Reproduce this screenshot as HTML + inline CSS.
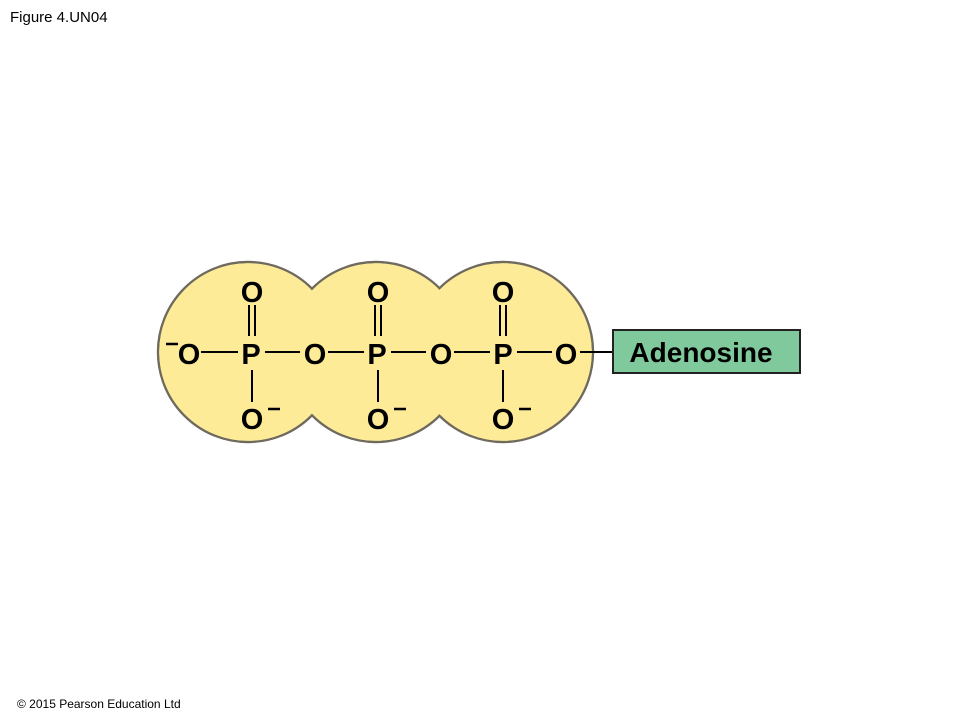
<!DOCTYPE html>
<html><head><style>
body{margin:0;background:#fff;width:960px;height:720px;overflow:hidden}
svg{display:block}
</style></head><body>
<svg width="960" height="720" xmlns="http://www.w3.org/2000/svg" font-family="Liberation Sans, Arial, sans-serif">
<text x="10" y="22" font-size="15" fill="#000">Figure 4.UN04</text>
<text x="17" y="708" font-size="12" fill="#000">© 2015 Pearson Education Ltd</text>
<g stroke="#6e6a5e" stroke-width="2.4" fill="#feeb98">
<circle cx="248" cy="352" r="90"/><circle cx="376" cy="352" r="90"/><circle cx="503" cy="352" r="90"/>
</g>
<g fill="#feeb98">
<circle cx="248" cy="352" r="88.8"/><circle cx="376" cy="352" r="88.8"/><circle cx="503" cy="352" r="88.8"/>
</g>
<g stroke="#000" stroke-width="2">
<line x1="201" y1="352" x2="238" y2="352"/><line x1="265" y1="352" x2="300" y2="352"/>
<line x1="328" y1="352" x2="364" y2="352"/><line x1="391" y1="352" x2="426" y2="352"/>
<line x1="454" y1="352" x2="490" y2="352"/><line x1="517" y1="352" x2="552" y2="352"/>
<line x1="580" y1="352" x2="613" y2="352"/>
<line x1="249" y1="305" x2="249" y2="336"/><line x1="255" y1="305" x2="255" y2="336"/>
<line x1="375" y1="305" x2="375" y2="336"/><line x1="381" y1="305" x2="381" y2="336"/>
<line x1="500" y1="305" x2="500" y2="336"/><line x1="506" y1="305" x2="506" y2="336"/>
<line x1="252" y1="370" x2="252" y2="402"/><line x1="378" y1="370" x2="378" y2="402"/><line x1="503" y1="370" x2="503" y2="402"/>
</g>
<g font-size="29" font-weight="bold" text-anchor="middle" fill="#000">
<text x="252" y="302">O</text><text x="378" y="302">O</text><text x="503" y="302">O</text>
<text x="251" y="364">P</text><text x="377" y="364">P</text><text x="503" y="364">P</text>
<text x="189" y="364">O</text><text x="315" y="364">O</text><text x="441" y="364">O</text><text x="566" y="364">O</text>
<text x="252" y="429">O</text><text x="378" y="429">O</text><text x="503" y="429">O</text>
</g>
<g stroke="#000" stroke-width="2.5">
<line x1="166" y1="344" x2="178" y2="344"/>
<line x1="268" y1="409" x2="280" y2="409"/><line x1="394" y1="409" x2="406" y2="409"/><line x1="519" y1="409" x2="531" y2="409"/>
</g>
<rect x="613" y="330" width="187" height="43" fill="#80c99c" stroke="#222" stroke-width="2"/>
<text x="701" y="362" font-size="28" font-weight="bold" text-anchor="middle" fill="#000">Adenosine</text>
</svg>
</body></html>
